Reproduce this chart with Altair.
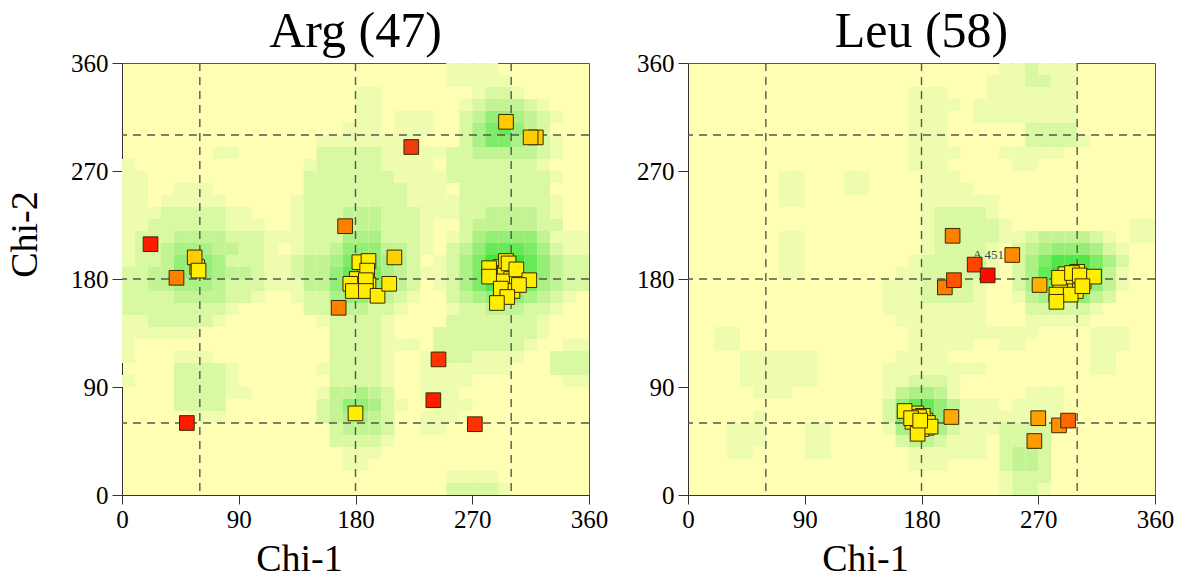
import altair as alt
import pandas as pd

FONT = "Liberation Serif"
TICKS = [0, 90, 180, 270, 360]
GUIDES = [60, 180, 300]
BIN = 10
LEVEL_COLORS = ["#ffffb4", "#edfcae", "#d8f8a2", "#c2f494", "#acf186",
                "#95ee77", "#7eec67", "#67ea57", "#52e849", "#3ee63c"]

# heat cells: (row from top, first col, last col, level), 10-degree cells
ARG_RUNS = [
    (0,25,28,1),(1,25,29,1),
    (2,18,19,1),(2,27,30,1),(2,28,29,2),
    (3,18,19,1),(3,26,26,1),(3,27,27,2),(3,28,30,3),(3,31,31,2),(3,32,32,1),
    (4,18,19,1),(4,21,23,1),(4,26,26,2),(4,27,27,3),(4,28,29,5),(4,30,30,4),(4,31,31,3),(4,32,32,2),(4,33,33,1),
    (5,17,19,1),(5,21,23,1),(5,26,26,2),(5,27,27,4),(5,28,28,6),(5,29,29,7),(5,30,30,5),(5,31,31,3),(5,32,32,2),
    (6,15,19,1),(6,20,22,1),(6,26,26,2),(6,27,27,4),(6,28,29,6),(6,30,30,4),(6,31,31,3),(6,32,32,2),(6,33,33,1),
    (7,7,8,1),(7,15,19,2),(7,20,24,1),(7,25,26,2),(7,27,31,3),(7,32,32,2),(7,33,33,1),
    (8,0,0,1),(8,14,14,1),(8,15,19,2),(8,20,23,1),(8,25,31,2),(8,32,32,1),
    (9,0,1,1),(9,14,20,2),(9,21,24,1),(9,25,32,2),(9,33,33,1),
    (10,0,1,1),(10,4,6,1),(10,14,21,2),(10,22,24,1),(10,26,32,2),
    (11,0,1,1),(11,3,7,1),(11,13,13,1),(11,14,21,2),(11,22,25,1),(11,26,32,2),(11,33,33,1),
    (12,0,2,1),(12,3,7,2),(12,8,9,1),(12,13,13,1),(12,14,16,2),(12,17,19,3),(12,20,22,2),(12,23,25,1),(12,26,27,2),(12,28,31,3),(12,32,32,2),(12,33,33,1),
    (13,0,1,1),(13,2,7,2),(13,8,10,1),(13,13,13,1),(13,14,16,2),(13,17,19,3),(13,20,22,2),(13,23,23,1),(13,26,26,2),(13,27,31,3),(13,32,33,2),
    (14,0,0,1),(14,1,3,2),(14,4,7,3),(14,8,10,2),(14,11,13,1),(14,14,16,2),(14,17,19,4),(14,20,22,2),(14,23,23,1),(14,25,25,1),(14,26,26,2),(14,27,27,4),(14,28,31,5),(14,32,32,3),(14,33,35,1),
    (15,0,0,1),(15,1,2,2),(15,3,3,3),(15,4,6,4),(15,7,8,3),(15,9,10,2),(15,11,11,1),(15,13,13,1),(15,14,15,2),(15,16,16,3),(15,17,19,5),(15,20,21,3),(15,22,22,2),(15,23,23,1),(15,25,25,2),(15,26,26,3),(15,27,27,5),(15,28,30,7),(15,31,31,6),(15,32,32,4),(15,33,33,2),(15,34,35,1),
    (16,0,0,1),(16,1,2,2),(16,3,3,3),(16,4,6,5),(16,7,7,4),(16,8,10,2),(16,11,12,1),(16,13,13,2),(16,14,15,3),(16,16,16,4),(16,17,18,6),(16,19,19,5),(16,20,20,4),(16,21,21,3),(16,22,22,2),(16,24,24,1),(16,25,25,2),(16,26,26,4),(16,27,27,6),(16,28,30,9),(16,31,31,7),(16,32,32,5),(16,33,33,3),(16,34,35,2),
    (17,0,1,2),(17,2,3,3),(17,4,6,5),(17,7,7,4),(17,8,9,3),(17,10,10,2),(17,11,12,1),(17,13,13,2),(17,14,15,3),(17,16,16,5),(17,17,18,7),(17,19,19,6),(17,20,20,4),(17,21,21,3),(17,22,22,2),(17,23,24,1),(17,25,25,2),(17,26,26,4),(17,27,27,6),(17,28,30,9),(17,31,31,7),(17,32,32,5),(17,33,33,3),(17,34,35,2),
    (18,0,1,2),(18,2,3,3),(18,4,6,4),(18,7,7,3),(18,8,10,2),(18,11,13,1),(18,14,15,3),(18,16,16,5),(18,17,18,7),(18,19,19,5),(18,20,20,4),(18,21,21,3),(18,22,22,2),(18,24,24,1),(18,25,25,2),(18,26,26,4),(18,27,27,6),(18,28,30,8),(18,31,31,6),(18,32,32,4),(18,33,33,3),(18,34,35,2),
    (19,0,3,2),(19,4,6,3),(19,7,7,3),(19,8,9,2),(19,10,10,1),(19,13,13,1),(19,14,15,2),(19,16,16,4),(19,17,18,5),(19,19,19,4),(19,20,20,3),(19,21,21,2),(19,22,22,1),(19,25,25,2),(19,26,26,3),(19,27,27,4),(19,28,30,5),(19,31,31,4),(19,32,32,3),(19,33,33,2),(19,34,34,1),
    (20,0,7,2),(20,8,8,1),(20,14,15,2),(20,16,18,3),(20,19,20,2),(20,21,21,1),(20,25,25,1),(20,26,27,2),(20,28,30,3),(20,31,32,2),(20,33,33,1),
    (21,0,1,1),(21,2,6,2),(21,7,7,1),(21,15,15,1),(21,16,19,2),(21,20,20,1),(21,25,31,2),(21,32,32,1),
    (22,0,5,1),(22,16,19,2),(22,20,20,1),(22,24,31,2),(22,32,32,1),
    (23,0,0,1),(23,16,19,2),(23,20,22,1),(23,24,30,2),(23,31,31,1),(23,34,35,1),
    (24,0,0,1),(24,4,6,1),(24,16,19,2),(24,20,20,1),(24,23,23,1),(24,24,26,2),(24,27,30,1),(24,33,35,2),
    (25,4,7,2),(25,8,8,1),(25,15,15,1),(25,16,19,2),(25,20,20,1),(25,23,29,1),(25,33,35,2),
    (26,0,0,1),(26,4,7,2),(26,8,8,1),(26,16,19,2),(26,20,20,1),(26,23,26,1),(26,34,35,1),
    (27,4,7,2),(27,8,9,1),(27,15,15,1),(27,16,17,3),(27,18,18,4),(27,19,19,3),(27,20,20,2),(27,23,25,1),
    (28,4,7,2),(28,15,15,2),(28,16,16,3),(28,17,18,5),(28,19,19,4),(28,20,20,2),(28,21,21,1),(28,24,26,1),
    (29,5,7,1),(29,15,15,2),(29,16,16,3),(29,17,18,4),(29,19,19,3),(29,20,20,2),(29,23,25,1),
    (30,16,16,2),(30,17,19,3),(30,20,20,2),(30,23,24,1),
    (31,16,19,2),(31,20,20,1),
    (32,17,19,1),(33,17,18,1),
    (34,25,28,1),(35,25,28,2),(35,29,29,1),
]

LEU_RUNS = [
    (0,24,29,1),(0,26,26,2),
    (1,23,25,1),(1,26,27,2),(1,28,29,1),
    (2,17,19,1),(2,23,29,1),
    (3,17,20,1),(3,22,29,1),
    (4,17,19,1),(4,22,29,1),
    (5,17,19,1),(5,26,29,2),
    (6,17,19,1),(6,26,29,2),(6,30,30,1),
    (7,17,20,1),(7,24,28,1),
    (8,17,19,1),(8,25,26,1),
    (9,7,8,1),(9,12,13,1),(9,18,20,1),
    (10,7,8,1),(10,12,13,1),(10,18,21,1),
    (11,7,8,1),(11,18,23,1),
    (12,18,18,1),(12,19,22,2),(12,23,23,1),
    (13,18,18,1),(13,19,23,2),(13,24,24,1),(13,34,35,1),
    (14,7,8,1),(14,18,18,1),(14,19,23,2),(14,24,25,1),(14,26,26,2),(14,27,30,3),(14,31,31,2),(14,32,32,1),(14,34,35,1),
    (15,7,8,1),(15,18,18,1),(15,19,22,2),(15,23,23,1),(15,25,25,2),(15,26,26,3),(15,27,27,4),(15,28,30,5),(15,31,31,4),(15,32,32,2),(15,33,33,1),
    (16,7,8,1),(16,17,17,1),(16,18,22,2),(16,23,23,1),(16,25,25,2),(16,26,26,4),(16,27,27,6),(16,28,30,8),(16,31,31,6),(16,32,32,4),(16,33,33,2),
    (17,7,8,1),(17,16,17,1),(17,18,22,2),(17,23,23,1),(17,25,25,2),(17,26,26,4),(17,27,27,7),(17,28,29,9),(17,30,30,8),(17,31,31,6),(17,32,32,3),(17,33,33,1),
    (18,15,17,1),(18,18,21,2),(18,22,22,1),(18,25,25,2),(18,26,26,4),(18,27,27,6),(18,28,29,9),(18,30,30,7),(18,31,31,5),(18,32,32,3),(18,33,33,1),
    (19,15,17,1),(19,18,21,2),(19,22,22,1),(19,25,25,1),(19,26,26,3),(19,27,27,4),(19,28,30,5),(19,31,31,3),(19,32,32,2),
    (20,15,22,1),(20,26,30,2),(20,31,31,1),
    (21,16,22,1),(21,26,30,1),
    (22,2,3,1),(22,17,26,1),(22,31,33,1),
    (23,2,3,1),(23,17,21,1),(23,24,25,1),(23,31,33,1),
    (24,4,9,1),(24,16,19,1),(24,31,32,1),
    (25,4,9,1),(25,15,22,1),(25,31,32,1),
    (26,4,9,1),(26,15,16,1),(26,17,19,2),(26,20,20,1),
    (27,5,7,1),(27,15,15,1),(27,16,16,3),(27,17,18,4),(27,19,19,3),(27,20,20,1),(27,26,28,1),
    (28,15,15,2),(28,16,16,5),(28,17,18,7),(28,19,19,5),(28,20,20,3),(28,21,23,1),(28,25,28,1),
    (29,5,5,1),(29,15,15,2),(29,16,16,6),(29,17,18,8),(29,19,19,5),(29,20,20,3),(29,21,24,1),(29,25,28,1),
    (30,3,5,1),(30,9,10,1),(30,15,15,1),(30,16,16,4),(30,17,18,5),(30,19,19,4),(30,20,20,2),(30,21,23,1),(30,24,27,2),
    (31,3,5,1),(31,9,10,1),(31,16,16,2),(31,17,18,3),(31,19,19,2),(31,20,22,1),(31,24,27,2),
    (32,3,4,1),(32,9,10,1),(32,17,19,1),(32,20,22,1),(32,24,24,2),(32,25,26,3),(32,27,27,2),
    (33,17,19,1),(33,24,24,2),(33,25,26,3),(33,27,27,2),
    (34,24,24,1),(34,25,26,2),(34,27,27,2),
    (35,24,24,1),(35,25,26,2),(35,27,27,1),
]

# residues: chi1, chi2, fill colour (drawn in list order)
ARG_CHI1 = [187, 181, 292, 299, 288, 303, 190, 58, 295, 300, 293, 301, 296,
            319, 315, 296, 223, 172, 22, 56, 59, 42,
            183, 190, 189, 210, 188, 176, 178, 188, 197, 206, 167,
            283, 283, 298, 304, 314, 292, 306, 297, 289,
            244, 240, 272, 50, 180]
ARG_CHI2 = [190, 180, 190, 176, 185, 182, 175, 190, 185, 180, 178, 170, 195,
            298, 298, 311, 290, 224, 209, 198, 187, 181,
            194, 195, 187, 198, 179, 176, 170, 170, 166, 176, 156,
            189, 182, 193, 188, 179, 172, 175, 165, 160,
            113, 79, 59, 60, 68]
ARG_FILL = ["#ffee00"] * 13 + [
    "#ffcc00", "#ffcc00", "#ffcc00", "#f03a10", "#ff8000", "#ff1a00", "#ffcc00", "#ffee00", "#ff8000",
    "#ffee00", "#ffee00", "#ffee00", "#ffd000", "#ffee00", "#ffee00", "#ffee00", "#ffee00", "#ffee00", "#ffee00", "#ff8000",
    "#ffee00", "#ffee00", "#ffee00", "#ffee00", "#ffee00", "#ffee00", "#ffee00", "#ffee00", "#ffee00",
    "#ff3300", "#ff1a00", "#ff3300", "#ff1a00", "#ffee00"]

LEU_CHI1 = [290, 292, 294, 296, 298, 300, 297, 293, 289, 300, 291, 288, 305, 299, 295, 287, 302, 296,
            175, 177, 180, 182, 174, 178, 183, 176, 181, 179, 185, 173, 178, 184, 180,
            204, 250, 221, 231, 198, 205,
            271, 286, 296, 302, 313, 284, 295, 304, 284,
            167, 172, 187, 177, 179, 203,
            270, 286, 293, 267]
LEU_CHI2 = [178, 176, 180, 178, 176, 180, 172, 170, 173, 186, 184, 180, 178, 170, 175, 170, 177, 182,
            64, 60, 63, 58, 66, 57, 62, 68, 66, 59, 60, 61, 65, 56, 55,
            216, 200, 192, 183, 173, 179,
            175, 181, 185, 183, 182, 167, 167, 174, 161,
            70, 64, 57, 51, 62, 65,
            64, 58, 62, 45]
LEU_FILL = ["#ffee00"] * 33 + [
    "#ff8000", "#ff8c00", "#ff4400", "#ff0a00", "#ff8000", "#ff5500",
    "#ffb000", "#ffee00", "#ffee00", "#ffee00", "#ffee00", "#ffee00", "#ffee00", "#ffee00", "#ffee00",
    "#ffee00", "#ffee00", "#ffee00", "#ffee00", "#ffee00", "#ffaa00",
    "#ffa000", "#ff9000", "#ff6600", "#ff9900"]

LEU_LABEL = ["A 451"]
LEU_LABEL_CHI1 = [221]
LEU_LABEL_CHI2 = [192]


def heat_table(runs):
    rows = []
    for r, c0, c1, lev in runs:
        for c in range(c0, c1 + 1):
            rows.append({"x0": c * BIN, "x1": (c + 1) * BIN,
                         "y0": 360 - (r + 1) * BIN, "y1": 360 - r * BIN, "lev": lev})
    return pd.DataFrame(rows)


def panel(runs, chi1, chi2, fills, title, ytitle, labels=None):
    xax = alt.Axis(values=TICKS, title="Chi-1", grid=False, labelFlush=False, titleX=177)
    if ytitle:
        yax = alt.Axis(values=TICKS, title=ytitle, grid=False, labelFlush=False, titleY=171)
    else:
        yax = alt.Axis(values=TICKS, title=None, grid=False, labelFlush=False)
    xs = alt.Scale(domain=[0, 360], nice=False, zero=False)
    heat = alt.Chart(heat_table(runs)).mark_rect().encode(
        x=alt.X("x0:Q", scale=xs, axis=xax),
        x2="x1:Q",
        y=alt.Y("y0:Q", scale=xs, axis=yax),
        y2="y1:Q",
        color=alt.Color("lev:O", scale=alt.Scale(domain=list(range(10)), range=LEVEL_COLORS), legend=None),
    )
    g = pd.DataFrame({"v": GUIDES})
    vr = alt.Chart(g).mark_rule(strokeDash=[8, 6], color="#555555", strokeWidth=1.4).encode(
        x=alt.X("v:Q", scale=xs, axis=xax))
    hr = alt.Chart(g).mark_rule(strokeDash=[8, 6], color="#555555", strokeWidth=1.4).encode(
        y=alt.Y("v:Q", scale=xs, axis=yax))
    layers = [heat, vr, hr]
    if labels:
        lab = pd.DataFrame({"t": labels[0], "a": labels[1], "b": labels[2]})
        layers.append(alt.Chart(lab).mark_text(align="left", baseline="bottom", dx=-2, dy=-3,
                                               font=FONT, fontSize=13, color="#3a4450").encode(
            x=alt.X("a:Q", scale=xs, axis=xax), y=alt.Y("b:Q", scale=xs, axis=yax), text="t:N"))
    pts = pd.DataFrame({"a": chi1, "b": chi2, "f": fills, "o": list(range(len(chi1)))})
    layers.append(alt.Chart(pts).mark_square(size=215, stroke="#3a2a00", strokeWidth=1, opacity=1).encode(
        x=alt.X("a:Q", scale=xs, axis=xax), y=alt.Y("b:Q", scale=xs, axis=yax),
        fill=alt.Fill("f:N", scale=None), order="o:Q"))
    return alt.layer(*layers).properties(
        width=467, height=432,
        title=alt.TitleParams(title, font=FONT, fontSize=50, fontWeight="normal", color="black", offset=-6))


left = panel(ARG_RUNS, ARG_CHI1, ARG_CHI2, ARG_FILL, "Arg (47)", "Chi-2")
right = panel(LEU_RUNS, LEU_CHI1, LEU_CHI2, LEU_FILL, "Leu (58)", "",
              labels=(LEU_LABEL, LEU_LABEL_CHI1, LEU_LABEL_CHI2))

chart = alt.hconcat(left, right, spacing=27).properties(
    padding={"left": 6, "top": 6, "right": 0, "bottom": 0}
).configure_view(fill="#ffffb4", stroke="#555555", strokeWidth=1).configure_axis(
    labelFont=FONT, labelColor="black", titleFont=FONT, titleFontSize=38,
    titleFontWeight="normal", titleColor="black", tickColor="#333333",
    domainColor="#333333", labelFontSize=25
).configure_axisX(tickSize=9, labelPadding=3, titlePadding=8
).configure_axisY(tickSize=10, labelPadding=4, titlePadding=26)

chart.save("out.html", embed_options={"renderer": "svg", "actions": False})
